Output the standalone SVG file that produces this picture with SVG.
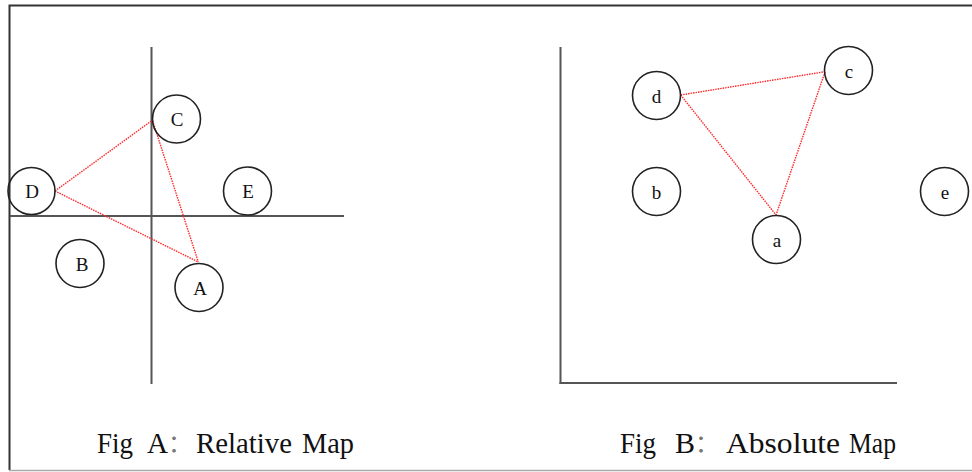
<svg xmlns="http://www.w3.org/2000/svg" width="972" height="472" viewBox="0 0 972 472">
<style>
.frame{stroke:#333;stroke-width:2;fill:none}
.axis{stroke:#555;stroke-width:2;fill:none}
.node circle{fill:none;stroke:#222;stroke-width:1.6}
.node text{font-family:"Liberation Serif","DejaVu Serif",serif;font-size:19px;fill:#111;text-anchor:middle}
.link{stroke:#ff2a2a;stroke-width:1.4;stroke-dasharray:1.5 1;fill:none}
.cap{font-family:"Liberation Serif","DejaVu Serif",serif;font-size:29px;fill:#111}
.colon{font-family:"Noto Sans CJK SC","Liberation Serif",sans-serif;font-size:24px;fill:#777;text-anchor:middle}
</style>
<rect width="972" height="472" fill="#fff"/>
<g id="frame">
<path class="frame" d="M9.5 470 V5.5 H972"/>
<line x1="9" y1="470.5" x2="972" y2="470.5" stroke="#aaa" stroke-width="1.5"/>
</g>
<g id="axes">
<line class="axis" x1="151.5" y1="47" x2="151.5" y2="384"/>
<line class="axis" x1="10" y1="216" x2="344" y2="216"/>
<line class="axis" x1="560.5" y1="47" x2="560.5" y2="384"/>
<line class="axis" x1="559.5" y1="383" x2="897" y2="383"/>
</g>
<g id="connectors">
<line class="link" x1="55" y1="191" x2="152.7" y2="120"/>
<line class="link" x1="55" y1="191" x2="198.3" y2="262"/>
<line class="link" x1="152.7" y1="121" x2="198.3" y2="262"/>
<line class="link" x1="680.7" y1="95" x2="825" y2="71.7"/>
<line class="link" x1="680.7" y1="95" x2="776" y2="215"/>
<line class="link" x1="825" y1="72" x2="776" y2="215"/>
</g>
<g id="nodeA" class="node"><circle cx="199" cy="287.5" r="24"/><text x="200" y="294.5">A</text></g>
<g id="nodeB" class="node"><circle cx="80" cy="263.5" r="24"/><text x="82" y="270.5">B</text></g>
<g id="nodeC" class="node"><circle cx="176.5" cy="119" r="24"/><text x="177" y="126">C</text></g>
<g id="nodeD" class="node"><circle cx="31.5" cy="191" r="23.5"/><text x="32" y="198">D</text></g>
<g id="nodeE" class="node"><circle cx="247.5" cy="191" r="24"/><text x="248" y="198">E</text></g>
<g id="node_a" class="node"><circle cx="776.5" cy="239.5" r="24"/><text x="777" y="246.5">a</text></g>
<g id="node_b" class="node"><circle cx="656.5" cy="191.5" r="24"/><text x="656.5" y="198.5">b</text></g>
<g id="node_c" class="node"><circle cx="848.5" cy="70.5" r="24"/><text x="849" y="77.5">c</text></g>
<g id="node_d" class="node"><circle cx="656.5" cy="95.5" r="24"/><text x="656.5" y="102.5">d</text></g>
<g id="node_e" class="node"><circle cx="944.5" cy="191.5" r="24"/><text x="945" y="198.5">e</text></g>
<g id="captions">
<text class="cap" x="97" y="453" textLength="36" lengthAdjust="spacingAndGlyphs">Fig</text>
<text class="cap" x="147" y="453" textLength="21" lengthAdjust="spacingAndGlyphs">A</text>
<text class="colon" x="180" y="452">：</text>
<text class="cap" x="196" y="453" textLength="96" lengthAdjust="spacingAndGlyphs">Relative</text>
<text class="cap" x="302" y="453" textLength="52" lengthAdjust="spacingAndGlyphs">Map</text>
<text class="cap" x="620" y="453" textLength="36" lengthAdjust="spacingAndGlyphs">Fig</text>
<text class="cap" x="675" y="453" textLength="20" lengthAdjust="spacingAndGlyphs">B</text>
<text class="colon" x="707" y="452">：</text>
<text class="cap" x="726" y="453" textLength="114" lengthAdjust="spacingAndGlyphs">Absolute</text>
<text class="cap" x="849" y="453" textLength="47" lengthAdjust="spacingAndGlyphs">Map</text>
</g>
</svg>
